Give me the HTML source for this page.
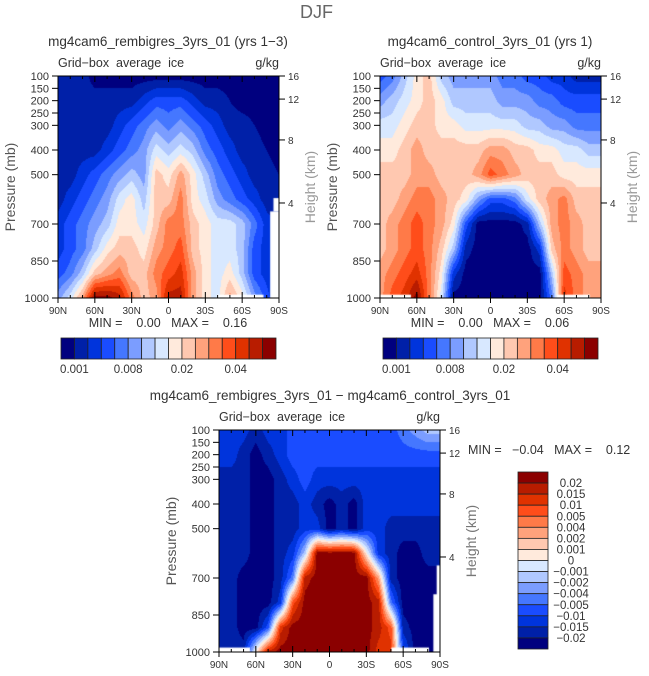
<!DOCTYPE html>
<html><head><meta charset="utf-8">
<style>
body{margin:0;background:#fff;}
#root{position:relative;width:649px;height:676px;overflow:hidden;background:#fff;font-family:"Liberation Sans",sans-serif;color:#333;}
.t{position:absolute;white-space:nowrap;}
canvas{position:absolute;}
svg{position:absolute;left:0;top:0;}
svg text{white-space:pre;}
</style></head>
<body>
<div id="root">
<div class="t" style="left:300px;top:2px;font-size:18px;color:#666;">DJF</div>
<canvas id="c1" width="221" height="222" style="left:58px;top:76px"></canvas>
<canvas id="c2" width="221" height="222" style="left:380px;top:76px"></canvas>
<canvas id="c3" width="221" height="222" style="left:219px;top:430px"></canvas>
<svg id="ov" width="649" height="676"></svg>
</div>
<script>
const lats=["90N","80N","70N","60N","50N","40N","30N","20N","10N","0","10S","20S","30S","40S","50S","60S","70S","80S","90S"];
const pressures=[100,200,300,400,500,600,700,800,900,1000];
const palette=["#00007f","#0020a8","#0034dc","#1a4cff","#4577ff","#7b9dff","#b0c8ff","#d8e8ff","#ffeadc","#ffc8b0","#ffa27c","#ff7a48","#ff4d1a","#e03200","#b81c00","#8b0000"];
const field1=[
[1,1,1,0,0,0,0,0,0,0,0,0,0,0,0,0,0,0,0],
[0.5,1,1,1,1,1,1,2,3,3,3,2,1,1,0.5,0,0,0,0],
[0.5,1,1,1,1,2,3,4,5,4,5,4,3,2,1,1,0.5,0,0],
[1,1,1,1,2,3,4,5,7,6,7,6,4,3,2,1,1,0.5,0],
[1,1,2,3,4,5,6,5,9,8,10,8,6,4,3,2,1,1,0.5],
[1,2,3,4,5,7,8,6,9,9,11,8,7,5,4,3,2,1,1],
[2,3,4,5,6,8,8,7,9,11,11,9,8,7,7,6,4,2,1],
[2,3,4,6,8,9,9,8,10,11,12,9,8,7,7,6,3,2,1],
[3,4,6,9,10,11,9,9,11,12,13,10,8,7,8,6,3,2,1],
[5,7,10,15,15,14,11,9,10,14,14,10,8,7,10,8,5,3,1]];
const field2=[
[3,4,6,8,9,6,5,5,5,5,4,4,3,3,2,2,1,1,1],
[5,6,7,8,9,8,6,6,6,6,5,5,5,4,4,3,3,3,3],
[7,7,8,9,9,8,8,7,7,7,7,7,6,6,5,5,4,4,4],
[8,8,9,10,9,9,9,9,9,10,10,9,9,8,8,7,7,6,6],
[9,9,9,10,10,9,9,9,10,12,11,10,9,9,9,8,8,8,8],
[9,9,10,11,11,10,9,8,5,3,3,4,7,9,10,11,9,9,9],
[9,10,11,12,11,10,8,3,0,0,0,0,1,6,10,11,10,9,9],
[9,10,11,12,11,9,6,1,0,0,0,0,0,2,9,11,10,9,9],
[10,11,12,13,11,8,2,0,0,0,0,0,0,0,6,12,11,10,10],
[10,12,13,15,11,7,0,0,0,0,0,0,0,0,4,13,11,10,10]];
const field3=[
[2,2,2,1,2,2,3,3,3,3,3,3,3,3,3,4,5,6,6],
[2,2,1,0,1,2,3,3,3,3,3,3,3,3,3,3,3,3,3],
[1,1,1,0,0,1,2,3,2,2,2,2,2,2,2,2,2,2,2],
[1,1,1,0,0,1,1,2,1,0,1,0,2,2,2,2,2,2,2],
[1,1,1,0,0,1,1,2,2,0,1,0,2,2,1,1,1,1,1],
[1,1,1,0,0,1,2,6,15,15,15,15,8,2,1,0,0,1,1],
[1,1,0,0,0,1,4,14,15,15,15,15,15,10,1,0,0,0,0],
[1,1,0,0,0,2,12,15,15,15,15,15,15,14,4,0,0,0,0],
[1,1,0,0,3,13,15,15,15,15,15,15,15,14,12,1,0,0,0],
[1,1,1,8,14,15,15,15,15,15,15,15,15,13,13,3,0,0,0]];
const cbLabels12=["0.001","0.008","0.02","0.04"];
const cbLabelIdx12=[1,5,9,13];
const cbLabels3=["0.02","0.015","0.01","0.005","0.004","0.002","0.001","0","\u22120.001","\u22120.002","\u22120.004","\u22120.005","\u22120.01","\u22120.015","\u22120.02"];
const pTicks=[100,150,200,250,300,400,500,700,850,1000];
const zTicks=[16,12,8,4];
const zTickFrac=[0,0.104,0.288,0.572];
const xTickLabels=["90N","60N","30N","0","30S","60S","90S"];

function hex(c){return [parseInt(c.substr(1,2),16),parseInt(c.substr(3,2),16),parseInt(c.substr(5,2),16)];}
const rgb=palette.map(hex);
function drawField(id,field,masks){
  const cv=document.getElementById(id),ctx=cv.getContext('2d');
  const W=cv.width,H=cv.height,img=ctx.createImageData(W,H);
  const nx=lats.length-1,ny=pressures.length-1;
  for(let py=0;py<H;py++){
    const p=100+(py+0.5)/H*900;
    const fy=Math.min(ny-1e-6,Math.max(0,(p-pressures[0])/(pressures[1]-pressures[0])));
    const j=Math.floor(fy),ty=fy-j;
    for(let px=0;px<W;px++){
      const fx=Math.min(nx-1e-6,(px+0.5)/W*nx);
      const i=Math.floor(fx),tx=fx-i;
      const v=(field[j][i]*(1-tx)+field[j][i+1]*tx)*(1-ty)+(field[j+1][i]*(1-tx)+field[j+1][i+1]*tx)*ty;
      const k=Math.max(0,Math.min(15,Math.round(v)));
      const o=(py*W+px)*4;
      img.data[o]=rgb[k][0];img.data[o+1]=rgb[k][1];img.data[o+2]=rgb[k][2];img.data[o+3]=255;
    }
  }
  ctx.putImageData(img,0,0);
  ctx.fillStyle="#fff";
  masks.forEach(m=>{ctx.fillRect(m[0]*W,m[1]*H,(m[2]-m[0])*W,(m[3]-m[1])*H);});
}
drawField('c1',field1,[[0.72,0.985,0.93,1],[0.96,0.61,1,1],[0.975,0.55,1,0.61]]);
drawField('c2',field2,[[0,0.985,0.14,1],[0.8,0.985,0.95,1]]);
drawField('c3',field3,[[0,0.98,0.14,1],[0.78,0.98,0.95,1],[0.985,0.61,1,1],[0.97,0.74,1,1]]);

const NS="http://www.w3.org/2000/svg";
const ov=document.getElementById('ov');
function el(tag,attrs,parent){const e=document.createElementNS(NS,tag);for(const k in attrs)e.setAttribute(k,attrs[k]);(parent||ov).appendChild(e);return e;}
function txt(x,y,s,size,anchor,fill,name,rot){
  const t=el('text',{x:x,y:y,'font-size':size,'text-anchor':anchor||'start',fill:fill||'#333','font-family':'Liberation Sans, sans-serif'});
  if(rot)t.setAttribute('transform','rotate(-90 '+x+' '+y+')');
  t.textContent=s;
  
  
  return t;
}
function panel(x0,y0,W,H,title,titleX,prefix,hColor){
  const g=el('g',{});
  
  
  el('rect',{x:x0,y:y0,width:W,height:H,fill:'none',stroke:'#000','stroke-width':1},g);
  const yOf=p=>y0+(p-100)/900*H;
  pTicks.forEach(p=>{const y=yOf(p);el('line',{x1:x0-6,y1:y,x2:x0,y2:y,stroke:'#000'},g);
    txt(x0-9,y+4,String(p),11,'end','#333',prefix+'-pressure-tick-'+p);});
  zTicks.forEach((z,i)=>{const y=y0+zTickFrac[i]*H;el('line',{x1:x0+W,y1:y,x2:x0+W+6,y2:y,stroke:'#000'},g);
    txt(x0+W+9,y+4,String(z),10,'start','#333',prefix+'-height-tick-'+z);});
  for(let k=0;k<=18;k++){const x=x0+k*W/18;const len=(k%3==0)?6:3;
    el('line',{x1:x,y1:y0,x2:x,y2:y0+len,stroke:'#000'},g);
    el('line',{x1:x,y1:y0+H,x2:x,y2:y0+H-len,stroke:'#000'},g);}
  xTickLabels.forEach((s,i)=>{const x=x0+i*W/6;el('line',{x1:x,y1:y0+H,x2:x,y2:y0+H+5,stroke:'#000'},g);
    txt(x,y0+H+16,s,10,'middle','#333',prefix+'-lat-tick-'+s);});
  txt(titleX,y0-30,title,13.5,'middle','#333',prefix+'-title');
  txt(x0,y0-9,'Grid\u2212box  average  ice',12.5,'start','#333',prefix+'-variable-label');
  txt(x0+W,y0-9,'g/kg',12.5,'end','#333',prefix+'-units-label');
  txt(x0-43,y0+H/2,'Pressure (mb)',14,'middle','#555',prefix+'-y-axis-title',true);
  txt(x0+W+36,y0+H/2,'Height (km)',14,'middle',hColor,prefix+'-height-axis-title',true);
}
panel(58,76,221,222,'mg4cam6_rembigres_3yrs_01 (yrs 1\u22123)',168,'panel1','#999');
panel(380,76,221,222,'mg4cam6_control_3yrs_01 (yrs 1)',490,'panel2','#999');
panel(219,430,221,222,'mg4cam6_rembigres_3yrs_01 \u2212 mg4cam6_control_3yrs_01',330,'panel3','#777');

txt(168,327,'MIN =    0.00   MAX =    0.16',12.5,'middle','#333','panel1-min-max');
txt(490,327,'MIN =    0.00   MAX =    0.06',12.5,'middle','#333','panel2-min-max');
txt(468,454,'MIN =   \u22120.04   MAX =    0.12',12.5,'start','#333','panel3-min-max');

function hbar(x0,y0,W,H,prefix){
  const g=el('g',{});
  
  
  const bw=W/palette.length;
  palette.forEach((c,i)=>{const r=el('rect',{x:x0+i*bw,y:y0,width:bw,height:H,fill:c,stroke:'#222','stroke-width':0.8},g);
    });
  cbLabels12.forEach((s,i)=>txt(x0+cbLabelIdx12[i]*bw,y0+H+14,s,11.5,'middle','#333',prefix+'-colorbar-label'));
}
hbar(61,338,215,21,'panel1');
hbar(383,338,215,21,'panel2');
(function(){
  const x0=518,y0=472,W=30,H=177,bh=H/palette.length;
  const g=el('g',{});
  
  
  palette.slice().reverse().forEach((c,i)=>{const r=el('rect',{x:x0,y:y0+i*bh,width:W,height:bh,fill:c,stroke:'#222','stroke-width':0.8},g);
    });
  cbLabels3.forEach((s,i)=>txt(571,y0+(i+1)*bh+4,s,11.5,'middle','#333','panel3-colorbar-label'));
})();
</script>
</body></html>
